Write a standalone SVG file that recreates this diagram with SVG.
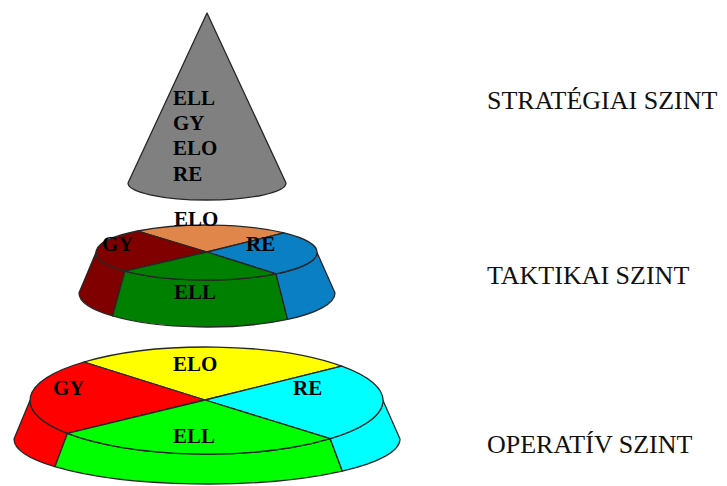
<svg xmlns="http://www.w3.org/2000/svg" width="727" height="486" viewBox="0 0 727 486">
  <style>
    .edge { stroke: #262626; stroke-width: 1.3; stroke-linejoin: round; }
    .key { font-family: "Liberation Serif", "Times New Roman", serif; font-weight: bold; font-size: 21px; fill: #000; }
    .level { font-family: "Liberation Serif", "Times New Roman", serif; font-size: 26px; fill: #111; }
  </style>
  <rect width="727" height="486" fill="#ffffff"/>

  <!-- Strategic level: cone -->
  <g id="cone">
    <path class="edge" fill="#808080" d="M207,13 L128,183 A79,17 0 0 0 286,183 Z"/>
    <text class="key" x="173" y="105">ELL</text>
    <text class="key" x="173" y="130">GY</text>
    <text class="key" x="173" y="155">ELO</text>
    <text class="key" x="173" y="181">RE</text>
  </g>

  <!-- Tactical level: medium disc -->
  <g id="tactical-disc">
    <path class="edge" fill="#800000" d="M96,252.5 A110.5,27.5 0 0 0 125,271.1 L112.6,316 A128,34 0 0 1 79,293 Z"/>
    <path class="edge" fill="#008000" d="M125,271.1 A110.5,27.5 0 0 0 276,273.9 L287.6,319.4 A128,34 0 0 1 112.6,316 Z"/>
    <path class="edge" fill="#0A7FC4" d="M276,273.9 A110.5,27.5 0 0 0 317,252.5 L335,293 A128,34 0 0 1 287.6,319.4 Z"/>
    <path class="edge" fill="#E0864A" d="M207,252 L137.7,231 A110.5,27.5 0 0 1 284,232.9 Z"/>
    <path class="edge" fill="#800000" d="M207,252 L125,271.1 A110.5,27.5 0 0 1 137.7,231 Z"/>
    <path class="edge" fill="#0A7FC4" d="M207,252 L284,232.9 A110.5,27.5 0 0 1 276,273.9 Z"/>
    <path class="edge" fill="#008000" d="M207,252 L276,273.9 A110.5,27.5 0 0 1 125,271.1 Z"/>
    <text class="key" x="174" y="226">ELO</text>
    <text class="key" x="102" y="251">GY</text>
    <text class="key" x="246" y="251">RE</text>
    <text class="key" x="174" y="299">ELL</text>
  </g>

  <!-- Operative level: large disc -->
  <g id="operative-disc">
    <path class="edge" fill="#FF0000" d="M30,400.5 A176.5,53.5 0 0 0 67.4,433.4 L54.9,466.7 A193,45 0 0 1 14,439 Z"/>
    <path class="edge" fill="#00FF00" d="M67.4,433.4 A176.5,53.5 0 0 0 330.2,438.7 L342.3,471.1 A193,45 0 0 1 54.9,466.7 Z"/>
    <path class="edge" fill="#00FFFF" d="M330.2,438.7 A176.5,53.5 0 0 0 383,400.5 L400,439 A193,45 0 0 1 342.3,471.1 Z"/>
    <path class="edge" fill="#FFFF00" d="M205,400 L83.9,362 A176.5,53.5 0 0 1 341.7,366.1 Z"/>
    <path class="edge" fill="#FF0000" d="M205,400 L67.4,433.4 A176.5,53.5 0 0 1 83.9,362 Z"/>
    <path class="edge" fill="#00FFFF" d="M205,400 L341.7,366.1 A176.5,53.5 0 0 1 330.2,438.7 Z"/>
    <path class="edge" fill="#00FF00" d="M205,400 L330.2,438.7 A176.5,53.5 0 0 1 67.4,433.4 Z"/>
    <text class="key" x="173" y="371">ELO</text>
    <text class="key" x="53" y="395">GY</text>
    <text class="key" x="293" y="395">RE</text>
    <text class="key" x="173" y="443">ELL</text>
  </g>

  <!-- Level names -->
  <g id="level-labels">
    <text class="level" x="487" y="109">STRATÉGIAI SZINT</text>
    <text class="level" x="487" y="284">TAKTIKAI SZINT</text>
    <text class="level" x="487" y="453">OPERATÍV SZINT</text>
  </g>
</svg>
